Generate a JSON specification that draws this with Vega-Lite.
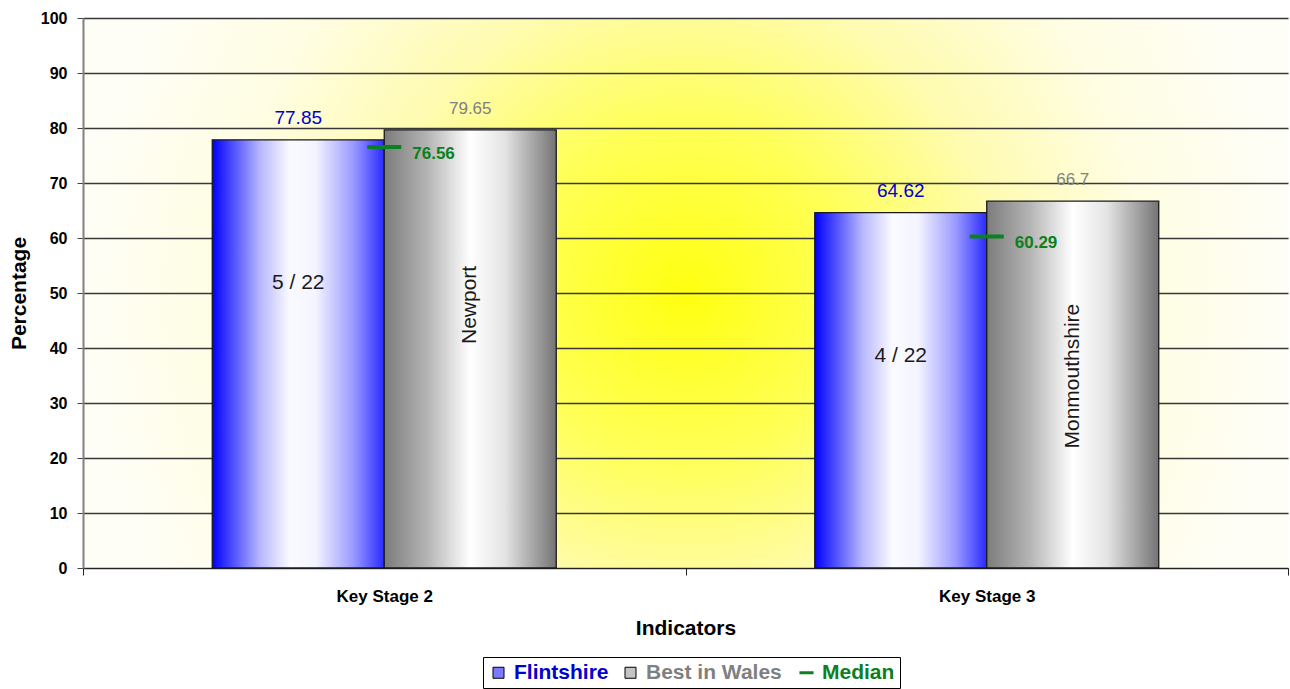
{
  "$schema": "https://vega.github.io/schema/vega-lite/v6.json",
  "width": 1205,
  "height": 550,
  "autosize": {"type": "none"},
  "padding": {"left": 83, "top": 18, "right": 2, "bottom": 121},
  "background": "#ffffff",
  "data": {
    "values": [
      {"stage": "Key Stage 2", "series": "Flintshire", "value": 77.85, "note": "5 / 22"},
      {"stage": "Key Stage 2", "series": "Best in Wales", "value": 79.65, "note": "Newport"},
      {"stage": "Key Stage 2", "series": "Median", "value": 76.56},
      {"stage": "Key Stage 3", "series": "Flintshire", "value": 64.62, "note": "4 / 22"},
      {"stage": "Key Stage 3", "series": "Best in Wales", "value": 66.7, "note": "Monmouthshire"},
      {"stage": "Key Stage 3", "series": "Median", "value": 60.29}
    ]
  },
  "encoding": {
    "x": {
      "field": "stage",
      "type": "nominal",
      "scale": {"paddingInner": 0, "paddingOuter": 0},
      "axis": {
        "title": "Indicators",
        "labelAngle": 0,
        "tickBand": "extent",
        "tickSize": 7,
        "tickColor": "#222222",
        "domainColor": "#222222",
        "labelFontSize": 17,
        "labelFontWeight": "bold",
        "labelPadding": 13,
        "titleFontSize": 21,
        "titlePadding": 13
      }
    },
    "y": {
      "field": "value",
      "type": "quantitative",
      "scale": {"domain": [0, 100], "nice": false},
      "axis": {
        "title": "Percentage",
        "values": [0, 10, 20, 30, 40, 50, 60, 70, 80, 90, 100],
        "grid": true,
        "gridColor": "#383838",
        "gridWidth": 1.3,
        "tickSize": 6,
        "tickColor": "#404040",
        "domainColor": "#808080",
        "domainWidth": 2,
        "labelFontSize": 16,
        "labelFontWeight": "bold",
        "labelPadding": 10,
        "titleFontSize": 21,
        "titlePadding": 11
      }
    }
  },
  "layer": [
    {
      "transform": [{"filter": "datum.series === 'Flintshire'"}],
      "mark": {
        "type": "bar",
        "stroke": "#1a1a1a",
        "strokeWidth": 1.3,
        "color": {
          "gradient": "linear",
          "x1": 0, "y1": 0, "x2": 1, "y2": 0,
          "stops": [
            {"offset": 0, "color": "#0000ff"},
            {"offset": 0.28, "color": "#b8b8ff"},
            {"offset": 0.45, "color": "#fafaff"},
            {"offset": 0.6, "color": "#f4f4ff"},
            {"offset": 0.82, "color": "#9a9aff"},
            {"offset": 1, "color": "#2a2aff"}
          ]
        }
      },
      "encoding": {
        "xOffset": {"field": "series", "type": "nominal", "scale": {"domain": ["Flintshire", "Best in Wales"], "paddingInner": 0, "paddingOuter": 0.7515}}
      }
    },
    {
      "transform": [{"filter": "datum.series === 'Best in Wales'"}],
      "mark": {
        "type": "bar",
        "stroke": "#1a1a1a",
        "strokeWidth": 1.3,
        "color": {
          "gradient": "linear",
          "x1": 0, "y1": 0, "x2": 1, "y2": 0,
          "stops": [
            {"offset": 0, "color": "#7c7c7c"},
            {"offset": 0.25, "color": "#b4b4b4"},
            {"offset": 0.5, "color": "#ffffff"},
            {"offset": 0.7, "color": "#e4e4e4"},
            {"offset": 1, "color": "#747474"}
          ]
        }
      },
      "encoding": {
        "xOffset": {"field": "series", "type": "nominal", "scale": {"domain": ["Flintshire", "Best in Wales"], "paddingInner": 0, "paddingOuter": 0.7515}}
      }
    },
    {
      "transform": [{"filter": "datum.series !== 'Median'"}],
      "mark": {"type": "text", "baseline": "alphabetic", "dy": -16, "font": "Liberation Sans"},
      "encoding": {
        "xOffset": {"field": "series", "type": "nominal", "scale": {"domain": ["Flintshire", "Best in Wales"], "paddingInner": 0, "paddingOuter": 0.7515}},
        "text": {"field": "value", "type": "nominal"},
        "color": {"condition": {"test": "datum.series === 'Flintshire'", "value": "#0000cc"}, "value": "#808080"},
        "size": {"condition": {"test": "datum.series === 'Flintshire'", "value": 19}, "value": 17}
      }
    },
    {
      "transform": [{"filter": "datum.series === 'Flintshire'"}],
      "mark": {"type": "text", "baseline": "middle", "dy": 143, "fontSize": 21, "font": "Liberation Sans", "color": "#1a1a1a"},
      "encoding": {
        "xOffset": {"field": "series", "type": "nominal", "scale": {"domain": ["Flintshire", "Best in Wales"], "paddingInner": 0, "paddingOuter": 0.7515}},
        "text": {"field": "note", "type": "nominal"}
      }
    },
    {
      "transform": [{"filter": "datum.series === 'Best in Wales'"}],
      "mark": {"type": "text", "angle": 270, "align": "center", "baseline": "middle", "dx": -175, "fontSize": 21, "font": "Liberation Sans", "color": "#1a1a1a"},
      "encoding": {
        "xOffset": {"field": "series", "type": "nominal", "scale": {"domain": ["Flintshire", "Best in Wales"], "paddingInner": 0, "paddingOuter": 0.7515}},
        "text": {"field": "note", "type": "nominal"}
      }
    },
    {
      "transform": [{"filter": "datum.series === 'Median'"}],
      "mark": {"type": "tick", "thickness": 4, "size": 34, "opacity": 1},
      "encoding": {
        "color": {
          "field": "series",
          "type": "nominal",
          "scale": {"domain": ["Flintshire", "Best in Wales", "Median"], "range": ["#7a7aff", "#c4c4c4", "#0a8020"]},
          "legend": {
            "title": null,
            "orient": "none",
            "direction": "horizontal",
            "legendX": 400,
            "legendY": 639,
            "fillColor": "#ffffff",
            "strokeColor": "#000000",
            "padding": 5,
            "columnPadding": 11,
            "labelFont": "Liberation Sans",
            "labelFontSize": 21,
            "labelFontWeight": "bold",
            "labelOffset": 5,
            "symbolOpacity": 1,
            "labelColor": {"expr": "datum.value === 'Flintshire' ? '#0000cc' : datum.value === 'Best in Wales' ? '#808080' : '#0a8020'"},
            "symbolType": {"expr": "datum.value === 'Median' ? 'stroke' : 'square'"},
            "symbolSize": {"expr": "datum.value === 'Median' ? 200 : 121"},
            "symbolStrokeColor": {"expr": "datum.value === 'Median' ? '#0a8020' : '#000000'"},
            "symbolStrokeWidth": {"expr": "datum.value === 'Median' ? 3 : 1"}
          }
        }
      }
    },
    {
      "transform": [{"filter": "datum.series === 'Median'"}],
      "mark": {"type": "text", "align": "left", "baseline": "middle", "dx": 28, "dy": 7, "fontSize": 17, "fontWeight": "bold", "font": "Liberation Sans", "color": "#0a8020"},
      "encoding": {
        "text": {"field": "value", "type": "nominal"}
      }
    }
  ],
  "config": {
    "font": "Liberation Sans",
    "view": {
      "stroke": null,
      "fill": {
        "gradient": "radial",
        "x1": 0.5, "y1": 0.5, "r1": 0,
        "x2": 0.5, "y2": 0.5, "r2": 0.5,
        "stops": [
          {"offset": 0, "color": "#ffff10"},
          {"offset": 0.28, "color": "#ffff58"},
          {"offset": 0.52, "color": "#fffbb0"},
          {"offset": 0.76, "color": "#fffde2"},
          {"offset": 1, "color": "#fffef6"}
        ]
      }
    },
    "axis": {
      "labelFont": "Liberation Sans",
      "titleFont": "Liberation Sans",
      "labelColor": "#000000",
      "titleColor": "#000000",
      "titleFontWeight": "bold"
    }
  }
}
